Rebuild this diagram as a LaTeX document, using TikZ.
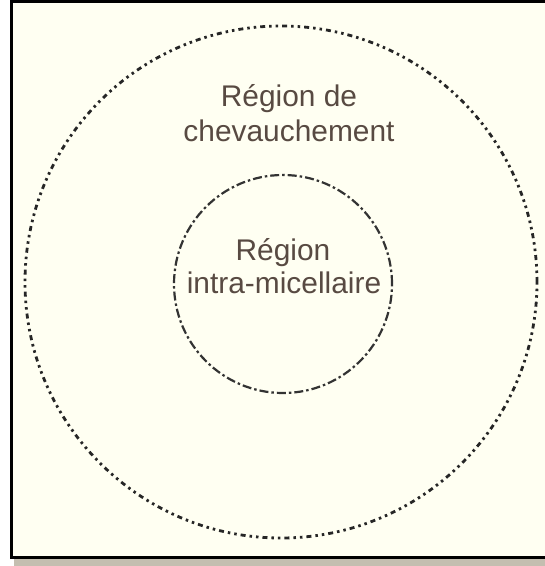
\documentclass[tikz,border=0pt]{standalone}
\usepackage{fontspec}
\setmainfont{Liberation Sans}
\definecolor{bgcream}{RGB}{255,255,242}
\definecolor{txtbrown}{RGB}{88,74,66}
\definecolor{shadowgray}{RGB}{196,190,176}
\tikzset{
  lbl/.style={text=txtbrown, font=\fontsize{30}{34}\selectfont, align=center, inner sep=0pt},
  outerring/.style={draw=black!85, line width=2.8bp, dash pattern=on 5bp off 4bp on 2.5bp off 4bp on 2.5bp off 4bp},
  innerring/.style={draw=black!80, line width=2.2bp, dash pattern=on 9bp off 3bp on 2.5bp off 3bp}
}
\begin{document}
\begin{tikzpicture}[x=1bp,y=-1bp]
\useasboundingbox (0,0) rectangle (545,566);
\fill[white] (0,0) rectangle (545,566);
\fill[shadowgray] (14,559) rectangle (545,566);
\fill[bgcream] (11,1.5) rectangle (545,557.5);
\draw[black, line width=3bp] (545,1.5) -- (11.5,1.5) -- (11.5,557.5) -- (545,557.5);
\node[outerring, circle, minimum size=512bp, inner sep=0pt] (outer) at (281,282) {};
\node[innerring, circle, minimum size=218bp, inner sep=0pt] (inner) at (283,284) {};
\node[lbl, anchor=base] (t1) at (289,107) {Région de};
\node[lbl, anchor=base] (t2) at (289,142) {chevauchement};
\node[lbl, anchor=base] (t3) at (283,260) {Région};
\node[lbl, anchor=base] (t4) at (284,293) {intra-micellaire};
\end{tikzpicture}
\end{document}
